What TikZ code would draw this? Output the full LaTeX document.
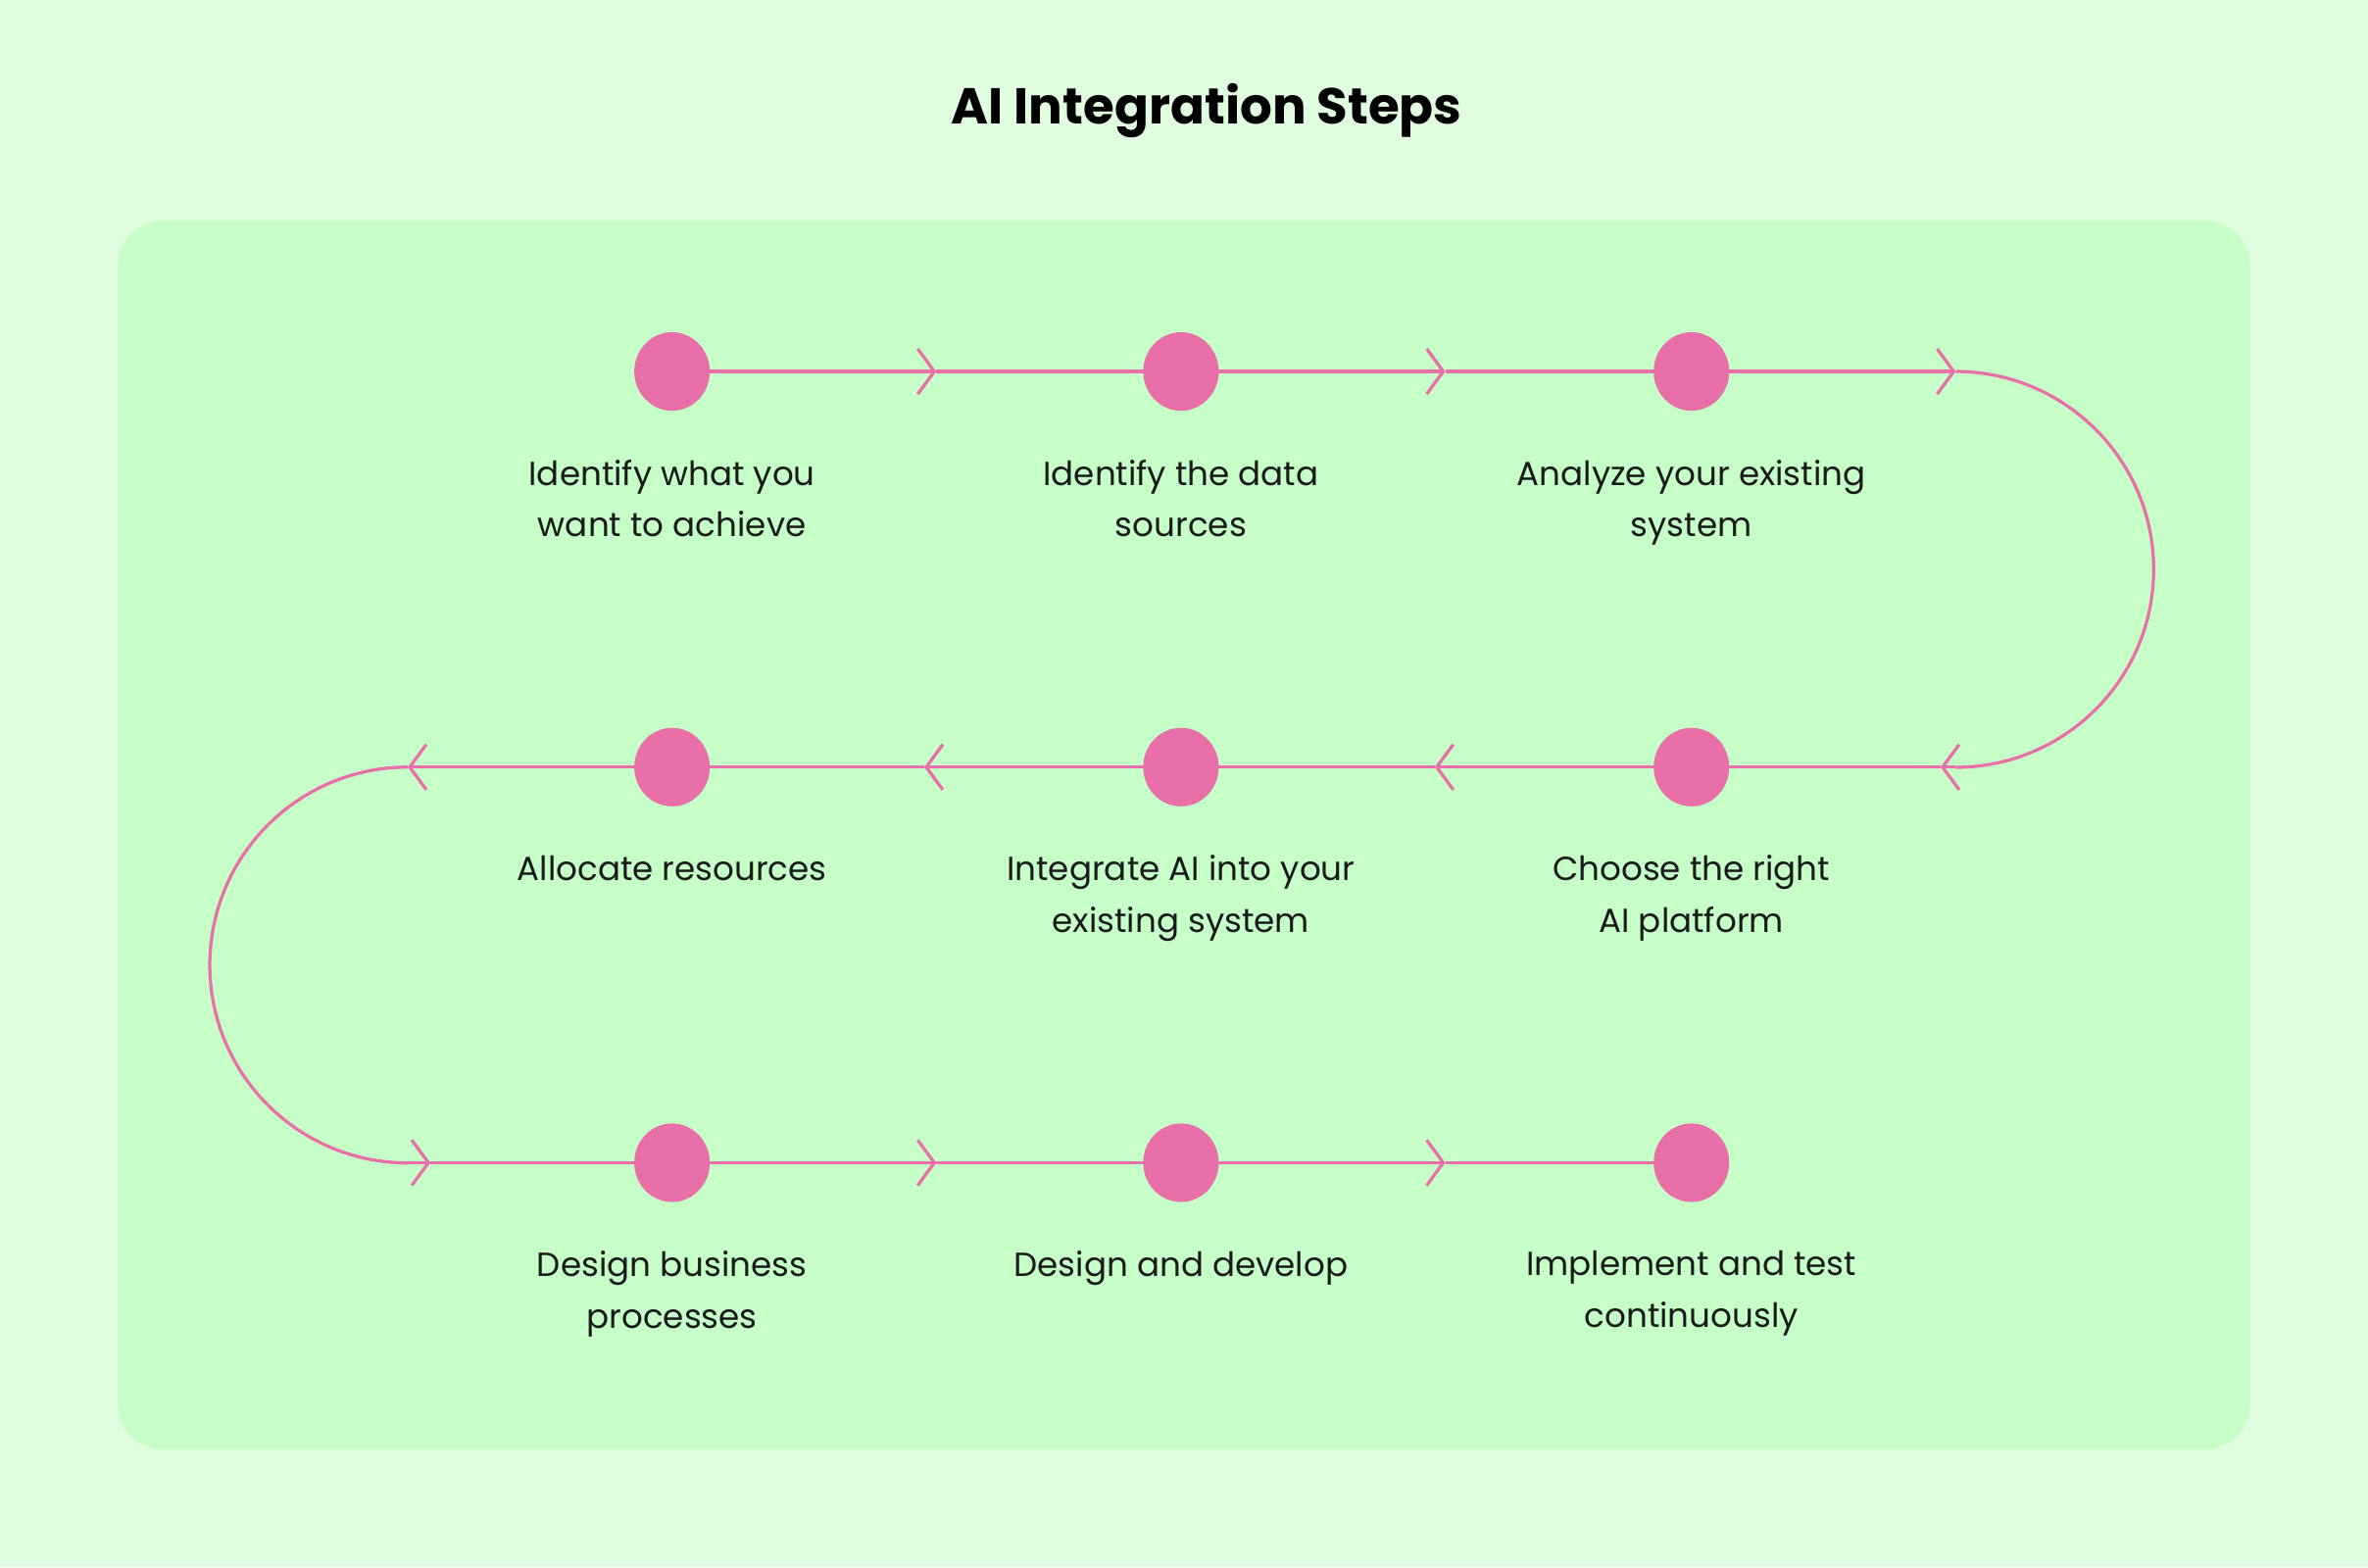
\documentclass[tikz,border=0pt]{standalone}
\usepackage{fontspec}
\setmainfont{Poppins}
\usetikzlibrary{arrows.meta,shapes.geometric}
\definecolor{bgout}{HTML}{E0FDE0}
\definecolor{bgin}{HTML}{C6FFC8}
\definecolor{pink}{HTML}{E96FA8}
\definecolor{txt}{HTML}{1A1A1A}
\begin{document}
\begin{tikzpicture}[x=0.01cm,y=-0.01cm,
  dot/.style={ellipse,fill=pink,minimum width=0.5cm,minimum height=0.52cm,inner sep=0pt},
  ln/.style={draw=pink,line width=0.6pt},
  arr/.style={ln,-{Straight Barb[length=0.11cm,width=0.3cm,line width=0.6pt]}},
  lab/.style={font=\fontsize{6.3}{9.7}\selectfont,text=txt,align=center,anchor=north}]
\useasboundingbox (0,0) rectangle (1568,1038);
\fill[bgout] (0,0) rectangle (1568,1038);
\fill[bgin,rounded corners=0.3cm] (78,146) rectangle (1490,960);
\node[font=\fontsize{9.5}{11}\selectfont\bfseries,text=black] (title) at (799,73) {AI Integration Steps};
% coordinates
\foreach \n/\x/\y in {a1/620/246,a2/957/246,a3/1295/246,
  b1/1285/508,b2/950/508,b3/612/508,b4/270/508,
  d1/285/770,d2/620/770,d3/957/770}{\coordinate (\n) at (\x,\y);}
\coordinate (b0) at (1295,508);
\coordinate (d0) at (270,770);
% lines
\draw[arr] (445,246) -- (a1);
\draw[ln] (a1) -- (782,246);
\draw[arr] (782,246) -- (a2);
\draw[ln] (a2) -- (1120,246);
\draw[arr] (1120,246) -- (a3);
\draw[ln] (a3) arc[start angle=90,end angle=-90,radius=1.31cm];
\draw[arr] (b0) -- (b1);
\draw[ln] (b1) -- (1120,508);
\draw[arr] (1120,508) -- (b2);
\draw[ln] (b2) -- (782,508);
\draw[arr] (782,508) -- (b3);
\draw[ln] (b3) -- (445,508);
\draw[arr] (445,508) -- (b4);
\draw[ln] (b4) arc[start angle=90,end angle=270,radius=1.31cm];
\draw[arr] (d0) -- (d1);
\draw[ln] (d1) -- (445,770);
\draw[arr] (445,770) -- (d2);
\draw[ln] (d2) -- (782,770);
\draw[arr] (782,770) -- (d3);
\draw[ln] (d3) -- (1120,770);
% dots
\node[dot] (n1) at (445,246) {};
\node[dot] (n2) at (782,246) {};
\node[dot] (n3) at (1120,246) {};
\node[dot] (n4) at (1120,508) {};
\node[dot] (n5) at (782,508) {};
\node[dot] (n6) at (445,508) {};
\node[dot] (n7) at (445,770) {};
\node[dot] (n8) at (782,770) {};
\node[dot] (n9) at (1120,770) {};
% labels
\node[lab] (l1) at (445,292) {Identify what you\\want to achieve};
\node[lab] (l2) at (782,292) {Identify the data\\sources};
\node[lab] (l3) at (1120,292) {Analyze your existing\\system};
\node[lab] (l4) at (1120,554) {Choose the right\\AI platform};
\node[lab] (l5) at (782,554) {Integrate AI into your\\existing system};
\node[lab] (l6) at (445,554) {Allocate resources};
\node[lab] (l7) at (445,816) {Design business\\processes};
\node[lab] (l8) at (782,816) {Design and develop};
\node[lab] (l9) at (1120,816) {Implement and test\\continuously};
\end{tikzpicture}
\end{document}
